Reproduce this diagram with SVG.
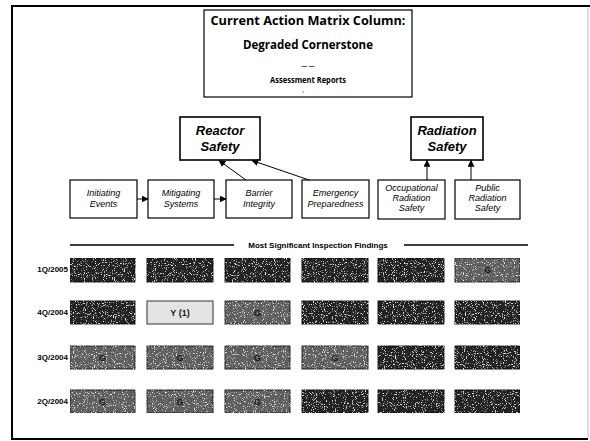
<svg xmlns="http://www.w3.org/2000/svg" width="590" height="441" viewBox="0 0 590 441">
<defs>
<style>
.frame{stroke:#000;stroke-width:2;fill:none}
.box{fill:#fff;stroke:#000;stroke-width:1.2}
.bigbox{fill:#fff;stroke:#000;stroke-width:1.6}
.conn{stroke:#000;stroke-width:1;fill:none}
.t{font-family:"Liberation Sans",Arial,sans-serif;fill:#000;text-anchor:middle}
.title{font-family:"Open Sans","DejaVu Sans",sans-serif;font-weight:bold;fill:#000;text-anchor:middle}
.hdr{font-weight:bold;font-style:italic;font-size:13px}
.sub{font-style:italic;font-size:9px}
.lbl{font-family:"Liberation Sans",Arial,sans-serif;font-weight:bold;font-size:8px;fill:#000;text-anchor:end}
.dk{fill:#222;stroke:#111;stroke-width:1}
.md{fill:#5e5e5e;stroke:#222;stroke-width:1}
.lt{fill:#e4e4e4;stroke:#333;stroke-width:1}
.g{font-family:"Liberation Sans",Arial,sans-serif;font-weight:bold;font-size:9px;fill:#1a1a1a;text-anchor:middle}
</style>
<marker id="ah" viewBox="0 0 10 10" refX="9" refY="5" markerWidth="7" markerHeight="7" orient="auto" markerUnits="userSpaceOnUse">
<path d="M0,0 L10,5 L0,10 z" fill="#000"/>
</marker>
<filter id="grain" x="0" y="0" width="100%" height="100%">
<feTurbulence type="fractalNoise" baseFrequency="0.9" numOctaves="1" seed="4" result="n"/>
<feColorMatrix in="n" type="matrix" values="0 0 0 0 0.85 0 0 0 0 0.85 0 0 0 0 0.85 0 0 0 7 -4.1" result="specks"/>
<feComposite in="specks" in2="SourceGraphic" operator="in" result="s2"/>
<feMerge><feMergeNode in="SourceGraphic"/><feMergeNode in="s2"/></feMerge>
</filter>
</defs>
<rect x="0" y="0" width="590" height="441" fill="#fff"/>

<g id="frame">
<path class="frame" d="M12,440 L12,6 L590,6"/>
<path class="frame" d="M12,439 L588,439"/>
<path d="M588,8 L588,438" stroke="#bbb" stroke-width="1" fill="none"/>
</g>

<g id="title">
<rect class="box" x="204" y="10" width="208" height="87"/>
<text class="title" x="308" y="25" font-size="13" textLength="195" lengthAdjust="spacingAndGlyphs">Current Action Matrix Column:</text>
<text class="title" x="308" y="49" font-size="13" textLength="130" lengthAdjust="spacingAndGlyphs">Degraded Cornerstone</text>
<text class="title" x="308" y="68" font-size="6">— —</text>
<text class="title" x="308" y="83" font-size="8" textLength="76" lengthAdjust="spacingAndGlyphs">Assessment Reports</text>
<circle cx="303" cy="92" r="0.6" fill="#000"/>
</g>

<g id="reactor-safety">
<rect class="bigbox" x="180" y="117" width="80" height="43"/>
<text class="t hdr" x="220" y="135">Reactor</text>
<text class="t hdr" x="220" y="151">Safety</text>
</g>

<g id="radiation-safety">
<rect class="bigbox" x="411" y="117" width="72" height="43"/>
<text class="t hdr" x="447" y="135">Radiation</text>
<text class="t hdr" x="447" y="151">Safety</text>
</g>

<g id="initiating-events">
<rect class="box" x="70" y="180" width="67" height="38"/>
<text class="t sub" x="103.5" y="196">Initiating</text>
<text class="t sub" x="103.5" y="207">Events</text>
</g>
<g id="mitigating-systems">
<rect class="box" x="148" y="180" width="66" height="38"/>
<text class="t sub" x="181" y="196">Mitigating</text>
<text class="t sub" x="181" y="207">Systems</text>
</g>
<g id="barrier-integrity">
<rect class="box" x="226" y="180" width="66" height="38"/>
<text class="t sub" x="259" y="196">Barrier</text>
<text class="t sub" x="259" y="207">Integrity</text>
</g>
<g id="emergency-preparedness">
<rect class="box" x="302" y="180" width="67" height="38"/>
<text class="t sub" x="335.5" y="196">Emergency</text>
<text class="t sub" x="335.5" y="207">Preparedness</text>
</g>
<g id="occupational-radiation-safety">
<rect class="box" x="378" y="180" width="67" height="39"/>
<text class="t sub" x="411.5" y="191">Occupational</text>
<text class="t sub" x="411.5" y="201">Radiation</text>
<text class="t sub" x="411.5" y="211">Safety</text>
</g>
<g id="public-radiation-safety">
<rect class="box" x="455" y="180" width="65" height="39"/>
<text class="t sub" x="487.5" y="191">Public</text>
<text class="t sub" x="487.5" y="201">Radiation</text>
<text class="t sub" x="487.5" y="211">Safety</text>
</g>

<g id="connectors">
<line class="conn" x1="137" y1="199" x2="148" y2="199" marker-end="url(#ah)"/>
<line class="conn" x1="214" y1="199" x2="226" y2="199" marker-end="url(#ah)"/>
<line class="conn" x1="246" y1="180" x2="219" y2="160.5" marker-end="url(#ah)"/>
<line class="conn" x1="309" y1="180" x2="252" y2="160.5" marker-end="url(#ah)"/>
<line class="conn" x1="427" y1="180" x2="427" y2="160.5" marker-end="url(#ah)"/>
<line class="conn" x1="471" y1="180" x2="471" y2="160.5" marker-end="url(#ah)"/>
</g>

<g id="findings-header">
<line x1="70" y1="245" x2="234" y2="245" stroke="#000" stroke-width="1.3"/>
<line x1="404" y1="245" x2="528" y2="245" stroke="#000" stroke-width="1.3"/>
<text class="t" x="318" y="248" font-size="8" font-weight="bold">Most Significant Inspection Findings</text>
</g>

<g id="findings-grid" filter="url(#grain)">
<rect class="dk" x="70" y="258" width="65" height="24"/>
<rect class="dk" x="147" y="258" width="66" height="24"/>
<rect class="dk" x="225" y="258" width="65" height="24"/>
<rect class="dk" x="302" y="258" width="66" height="24"/>
<rect class="dk" x="378" y="258" width="66" height="24"/>
<rect class="md" x="455" y="258" width="65" height="24" fill="#444"/>

<rect class="dk" x="70" y="301" width="65" height="23"/>
<rect class="md" x="225" y="301" width="65" height="23" fill="#4a4a4a"/>
<rect class="dk" x="302" y="301" width="66" height="23"/>
<rect class="dk" x="378" y="301" width="66" height="23"/>
<rect class="dk" x="455" y="301" width="65" height="23"/>

<rect class="md" x="70" y="346" width="65" height="23"/>
<rect class="md" x="147" y="346" width="66" height="23"/>
<rect class="md" x="225" y="346" width="65" height="23"/>
<rect class="md" x="302" y="346" width="66" height="23" fill="#3a3a3a"/>
<rect class="dk" x="378" y="346" width="66" height="23"/>
<rect class="dk" x="455" y="346" width="65" height="23"/>

<rect class="md" x="70" y="390" width="65" height="23"/>
<rect class="md" x="147" y="390" width="66" height="23"/>
<rect class="md" x="225" y="390" width="65" height="23"/>
<rect class="dk" x="302" y="390" width="66" height="23"/>
<rect class="dk" x="378" y="390" width="66" height="23"/>
<rect class="dk" x="455" y="390" width="65" height="23"/>
</g>

<g id="y1-finding">
<rect class="lt" x="147" y="301" width="66" height="23"/>
<text class="g" x="180" y="316" fill="#000">Y (1)</text>
</g>

<g id="grid-labels">
<text class="g" x="487.5" y="273">G</text>
<text class="g" x="257.5" y="316">G</text>
<text class="g" x="102.5" y="361">G</text>
<text class="g" x="180" y="361">G</text>
<text class="g" x="257.5" y="361">G</text>
<text class="g" x="335" y="361">G</text>
<text class="g" x="102.5" y="405">G</text>
<text class="g" x="180" y="405">G</text>
<text class="g" x="257.5" y="405">G</text>
<text class="lbl" x="68" y="272">1Q/2005</text>
<text class="lbl" x="68" y="315">4Q/2004</text>
<text class="lbl" x="68" y="360">3Q/2004</text>
<text class="lbl" x="68" y="404">2Q/2004</text>
</g>
</svg>
